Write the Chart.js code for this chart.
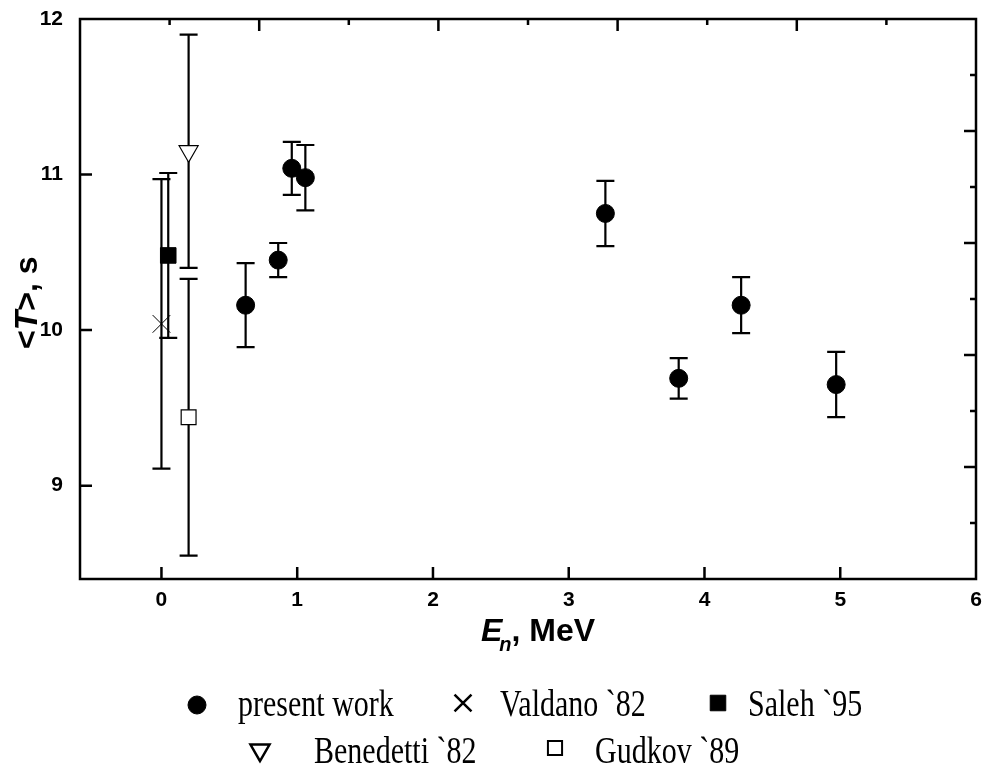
<!DOCTYPE html>
<html>
<head>
<meta charset="utf-8">
<script src="https://cdn.jsdelivr.net/npm/chart.js@4.4.1/dist/chart.umd.min.js"></script>
<style>
  html, body { margin: 0; padding: 0; background: #fff; }
  canvas { display: block; }
</style>
</head>
<body>
<canvas id="graphique" width="985" height="772"></canvas>
<script>
// present work: neutron energy (MeV), mean time <T> (s), error (s)
const presentE = [0.62, 0.86, 0.96, 1.06, 3.27, 3.81, 4.27, 4.97];
const presentT = [10.16, 10.45, 11.04, 10.98, 10.75, 9.69, 10.16, 9.65];
const presentErr = [0.27, 0.11, 0.17, 0.21, 0.21, 0.13, 0.18, 0.21];

// earlier measurements
const valdanoE = [0.0];
const valdanoT = [10.04];
const valdanoErr = [0.93];

const salehE = [0.05];
const salehT = [10.48];
const salehErr = [0.53];

const benedettiE = [0.2];
const benedettiT = [11.15];
const benedettiErr = [0.75];

const gudkovE = [0.2];
const gudkovT = [9.44];
const gudkovErr = [0.89];

// axis ticks
const xTicks = [0, 1, 2, 3, 4, 5, 6];
const yTicks = [9, 10, 11, 12];
const topTicks = [1, 2, 3, 4, 5, 6, 7, 8, 9];
const rightTicks = [1, 2, 3, 4, 5, 6, 7, 8, 9];

const toPoints = (xs, ys) => xs.map((x, i) => ({ x: x, y: ys[i] }));

const sansBold = "bold 32px 'Liberation Sans', Arial, sans-serif";

// barres d'erreur, dessinées sous les marqueurs
const errorBars = {
    id: "errorBars",
    beforeDatasetsDraw(chart) {
        const ctx = chart.ctx;
        const xs = chart.scales.x, ys = chart.scales.y;
        ctx.save();
        ctx.strokeStyle = "#000";
        ctx.lineWidth = 2.2;
        chart.data.datasets.forEach(ds => {
            ds.data.forEach((p, i) => {
                const e = ds.err[i];
                const px = xs.getPixelForValue(p.x);
                const top = ys.getPixelForValue(p.y + e);
                const bot = ys.getPixelForValue(p.y - e);
                ctx.beginPath();
                ctx.moveTo(px, top); ctx.lineTo(px, bot);
                ctx.moveTo(px - 9, top); ctx.lineTo(px + 9, top);
                ctx.moveTo(px - 9, bot); ctx.lineTo(px + 9, bot);
                ctx.stroke();
            });
        });
        ctx.restore();
    }
};

// cadre avec graduations vers l'intérieur + titres des axes
const frame = {
    id: "frame",
    afterDraw(chart) {
        const { ctx, chartArea: a, scales } = chart;
        ctx.save();
        ctx.strokeStyle = "#000";
        ctx.lineWidth = 2.5;
        ctx.strokeRect(a.left, a.top, a.right - a.left, a.bottom - a.top);

        ctx.beginPath();
        xTicks.forEach(v => {
            const p = scales.x.getPixelForValue(v);
            if (p > a.left + 2 && p < a.right - 2) { ctx.moveTo(p, a.bottom); ctx.lineTo(p, a.bottom - 12); }
        });
        yTicks.forEach(v => {
            const p = scales.y.getPixelForValue(v);
            if (p > a.top + 2 && p < a.bottom - 2) { ctx.moveTo(a.left, p); ctx.lineTo(a.left + 12, p); }
        });
        topTicks.forEach(v => {
            const p = scales.x2.getPixelForValue(v);
            const len = v % 2 === 0 ? 12 : 6;
            ctx.moveTo(p, a.top); ctx.lineTo(p, a.top + len);
        });
        rightTicks.forEach(v => {
            const p = scales.y2.getPixelForValue(v);
            const len = v % 2 === 0 ? 12 : 6;
            ctx.moveTo(a.right, p); ctx.lineTo(a.right - len, p);
        });
        ctx.stroke();

        // titre axe X : E_n, MeV
        ctx.fillStyle = "#000";
        ctx.textBaseline = "alphabetic";
        ctx.textAlign = "left";
        let x = 481, y = 641;
        ctx.font = "italic " + sansBold;
        ctx.fillText("E", x, y);
        x += ctx.measureText("E").width;
        ctx.font = "italic bold 20px 'Liberation Sans', Arial, sans-serif";
        ctx.fillText("n", x - 3, y + 10);
        x += ctx.measureText("n").width - 3;
        ctx.font = sansBold;
        ctx.fillText(", MeV", x, y);

        // titre axe Y : <T>, s
        ctx.translate(37, 349);
        ctx.rotate(-Math.PI / 2);
        let t = 0;
        ctx.font = sansBold;
        ctx.fillText("<", t, 0);
        t += ctx.measureText("<").width;
        ctx.font = "italic " + sansBold;
        ctx.fillText("T", t, 0);
        t += ctx.measureText("T").width;
        ctx.font = sansBold;
        ctx.fillText(">, s", t, 0);
        ctx.restore();
    }
};

// légende sous le graphique
const legendItems = [
    { ds: 0, mx: 197, my: 705, tx: 238, ty: 716, r: 9, bw: 1 },
    { ds: 1, mx: 463, my: 703, tx: 500, ty: 716, r: 12, bw: 2.5 },
    { ds: 2, mx: 718, my: 703, tx: 748, ty: 716, r: 11, bw: 1 },
    { ds: 3, mx: 260, my: 750, tx: 314, ty: 763, r: 11, bw: 2.5 },
    { ds: 4, mx: 555, my: 748, tx: 595, ty: 763, r: 10, bw: 2 }
];

const customLegend = {
    id: "customLegend",
    afterDraw(chart) {
        const ctx = chart.ctx;
        ctx.save();
        legendItems.forEach(it => {
            const ds = chart.data.datasets[it.ds];
            ctx.fillStyle = ds.backgroundColor;
            ctx.strokeStyle = "#000";
            ctx.lineWidth = it.bw;
            Chart.helpers.drawPoint(ctx, {
                pointStyle: ds.pointStyle,
                rotation: ds.rotation || 0,
                radius: it.r,
                borderWidth: it.bw
            }, it.mx, it.my);
            ctx.save();
            ctx.fillStyle = "#000";
            ctx.font = "30px 'Liberation Serif', 'Times New Roman', serif";
            ctx.textBaseline = "alphabetic";
            ctx.translate(it.tx, it.ty);
            ctx.scale(1, 1.25);
            ctx.fillText(ds.label, 0, 0);
            ctx.restore();
        });
        ctx.restore();
    }
};

const tickFont = { family: "'Liberation Sans', Arial, sans-serif", size: 21, weight: "bold" };
const noPad = s => { s.paddingLeft = 0; s.paddingRight = 0; s.paddingTop = 0; s.paddingBottom = 0; };

new Chart(document.getElementById("graphique").getContext("2d"), {
    type: "scatter",
    data: {
        datasets: [
            {
                label: "present work",
                data: toPoints(presentE, presentT),
                err: presentErr,
                pointStyle: "circle",
                pointRadius: 9,
                backgroundColor: "#000",
                borderColor: "#000",
                borderWidth: 1
            },
            {
                label: "Valdano `82",
                data: toPoints(valdanoE, valdanoT),
                err: valdanoErr,
                pointStyle: "crossRot",
                pointRadius: 12.5,
                backgroundColor: "#000",
                borderColor: "#000",
                borderWidth: 1
            },
            {
                label: "Saleh `95",
                data: toPoints(salehE, salehT),
                err: salehErr,
                pointStyle: "rect",
                pointRadius: 11,
                backgroundColor: "#000",
                borderColor: "#000",
                borderWidth: 1
            },
            {
                label: "Benedetti `82",
                data: toPoints(benedettiE, benedettiT),
                err: benedettiErr,
                pointStyle: "triangle",
                rotation: 180,
                pointRotation: 180,
                pointRadius: 11,
                backgroundColor: "#fff",
                borderColor: "#000",
                borderWidth: 1.2
            },
            {
                label: "Gudkov `89",
                data: toPoints(gudkovE, gudkovT),
                err: gudkovErr,
                pointStyle: "rect",
                pointRadius: 10.5,
                backgroundColor: "#fff",
                borderColor: "#000",
                borderWidth: 1.2
            }
        ]
    },
    options: {
        responsive: false,
        animation: false,
        layout: { autoPadding: false, padding: { left: 0, top: 19, right: 9, bottom: 127 } },
        plugins: {
            legend: { display: false },
            tooltip: { enabled: false }
        },
        scales: {
            x: {
                type: "linear",
                position: "bottom",
                min: -0.6,
                max: 6,
                grid: { display: false, drawTicks: false },
                border: { display: false },
                ticks: { font: tickFont, color: "#000", padding: 9 },
                afterBuildTicks: s => { s.ticks = xTicks.map(v => ({ value: v })); },
                afterFit: s => { s.height = 66; noPad(s); }
            },
            y: {
                type: "linear",
                position: "left",
                min: 8.4,
                max: 12,
                grid: { display: false, drawTicks: false },
                border: { display: false },
                ticks: { font: tickFont, color: "#000", padding: 17 },
                afterBuildTicks: s => { s.ticks = yTicks.map(v => ({ value: v })); },
                afterFit: s => { s.width = 80; noPad(s); }
            },
            x2: { type: "linear", position: "top", display: false, min: 0, max: 10, afterFit: noPad },
            y2: { type: "linear", position: "right", display: false, min: 0, max: 10, afterFit: noPad }
        }
    },
    plugins: [errorBars, frame, customLegend]
});
</script>
</body>
</html>
